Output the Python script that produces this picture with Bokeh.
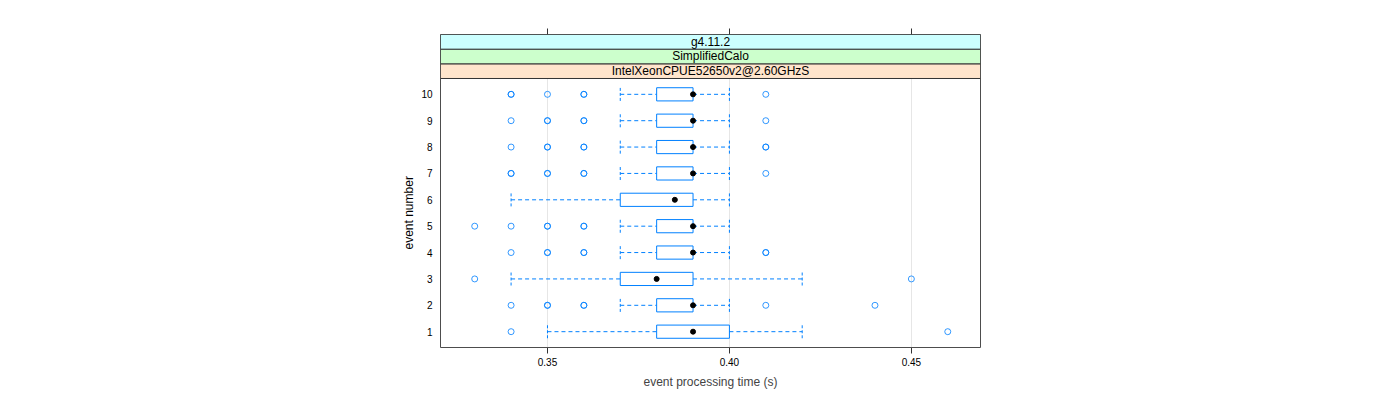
from bokeh.plotting import figure
from bokeh.models import (Range1d, FixedTicker, LinearAxis, NumeralTickFormatter,
                          ColumnDataSource, Title)
from bokeh.core.properties import value
from bokeh.embed import file_html
from bokeh.resources import INLINE

# ---- data ----
events = [1, 2, 3, 4, 5, 6, 7, 8, 9, 10]
q1 = [0.38, 0.38, 0.37, 0.38, 0.38, 0.37, 0.38, 0.38, 0.38, 0.38]
q3 = [0.40, 0.39, 0.39, 0.39, 0.39, 0.39, 0.39, 0.39, 0.39, 0.39]
median = [0.39, 0.39, 0.38, 0.39, 0.39, 0.385, 0.39, 0.39, 0.39, 0.39]
whisk_lo = [0.35, 0.37, 0.34, 0.37, 0.37, 0.34, 0.37, 0.37, 0.37, 0.37]
whisk_hi = [0.42, 0.40, 0.42, 0.40, 0.40, 0.40, 0.40, 0.40, 0.40, 0.40]

# outliers (duplicates = overplotted observations)
out_event = ([1, 1] +
             [2, 2, 2, 2, 2, 2, 2] +
             [3, 3] +
             [4, 4, 4, 4, 4, 4, 4] +
             [5, 5, 5, 5, 5, 5] +
             [7, 7, 7, 7, 7, 7, 7] +
             [8, 8, 8, 8, 8, 8, 8] +
             [9, 9, 9, 9, 9, 9] +
             [10, 10, 10, 10, 10, 10])
out_time = ([0.34, 0.46] +
            [0.34, 0.35, 0.35, 0.36, 0.36, 0.41, 0.44] +
            [0.33, 0.45] +
            [0.34, 0.35, 0.35, 0.36, 0.36, 0.41, 0.41] +
            [0.33, 0.34, 0.35, 0.35, 0.36, 0.36] +
            [0.34, 0.34, 0.35, 0.35, 0.36, 0.36, 0.41] +
            [0.34, 0.35, 0.35, 0.36, 0.36, 0.41, 0.41] +
            [0.34, 0.35, 0.35, 0.36, 0.36, 0.41] +
            [0.34, 0.34, 0.35, 0.36, 0.36, 0.41])

x_ticks = [0.35, 0.40, 0.45]
strip_labels = ["IntelXeonCPUE52650v2@2.60GHzS", "SimplifiedCalo", "g4.11.2"]
strip_colors = ["#FFE5CC", "#CCFFCC", "#CCFFFF"]
x_title = "event processing time (s)"
y_title = "event number"

# ---- layout constants ----
X0, X1 = 0.3206, 0.4690
Y0, Y1 = 0.4, 10.6
SH = 0.556
YTOP = Y1 + 3 * SH
BLUE = "#0080ff"
FONT = "Liberation Sans"
HB = 0.25

p = figure(width=1388, height=392, output_backend="svg", toolbar_location=None,
           x_range=Range1d(X0, X1), y_range=Range1d(Y0, YTOP),
           min_border_left=440, min_border_right=408, min_border_top=34,
           min_border_bottom=45)
p.outline_line_color = "#4d4d4d"
p.outline_line_width = 1
p.background_fill_color = "white"

# grid
p.ygrid.visible = False
p.xgrid.ticker = FixedTicker(ticks=x_ticks)
p.xgrid.grid_line_color = "#e6e6e6"

# axes
xa = p.xaxis[0]
xa.ticker = FixedTicker(ticks=x_ticks)
xa.formatter = NumeralTickFormatter(format="0.00")
xa.axis_line_color = None
xa.major_tick_out = 6
xa.major_tick_in = 0
xa.minor_tick_line_color = None
xa.major_tick_line_color = "#333333"
xa.major_label_standoff = 4
xa.major_label_text_font = FONT
xa.major_label_text_font_size = "10px"
xa.major_label_text_color = "black"
xa.axis_label = x_title
xa.axis_label_text_font = FONT
xa.axis_label_text_font_size = "12px"
xa.axis_label_text_font_style = "normal"
xa.axis_label_standoff = 6

ya = p.yaxis[0]
ya.ticker = FixedTicker(ticks=events)
ya.axis_line_color = None
ya.major_tick_out = 0
ya.major_tick_in = 0
ya.minor_tick_line_color = None
ya.major_label_standoff = 8
ya.major_label_text_font = FONT
ya.major_label_text_font_size = "10px"
ya.major_label_text_color = "black"

# y title, centred on the panel below the strips
p.add_layout(Title(text=y_title, align="left", offset=98, standoff=6,
                   text_font=FONT, text_font_size="12px", text_font_style="normal",
                   text_color="black"), "left")

top = LinearAxis(ticker=FixedTicker(ticks=x_ticks), axis_line_color=None,
                 major_tick_out=6, major_tick_in=0, minor_tick_line_color=None,
                 major_tick_line_color="#333333", major_label_text_font_size="0px",
                 major_label_text_alpha=0)
p.add_layout(top, "above")

# strips
for i, (lab, col) in enumerate(zip(strip_labels, strip_colors)):
    b = Y1 + i * SH
    p.quad(left=X0, right=X1, bottom=b, top=b + SH, fill_color=col,
           line_color="#333333", line_width=1)
    p.text(x=[(X0 + X1) / 2], y=[b + SH / 2], text=[lab], text_align="center",
           text_baseline="middle", text_font=value(FONT), text_font_size="12px",
           text_color="black")

src = ColumnDataSource(dict(ev=events, q1=q1, q3=q3, med=median, lo=whisk_lo, hi=whisk_hi,
                            b=[e - HB for e in events], t=[e + HB for e in events]))

# whiskers
p.segment(x0="lo", y0="ev", x1="q1", y1="ev", source=src, line_color=BLUE,
          line_dash="4 3", line_width=1)
p.segment(x0="q3", y0="ev", x1="hi", y1="ev", source=src, line_color=BLUE,
          line_dash="4 3", line_width=1)
p.segment(x0="lo", y0="b", x1="lo", y1="t", source=src, line_color=BLUE,
          line_dash="3 2", line_width=1)
p.segment(x0="hi", y0="b", x1="hi", y1="t", source=src, line_color=BLUE,
          line_dash="3 2", line_width=1)
# boxes
p.quad(left="q1", right="q3", bottom="b", top="t", source=src, fill_color=None,
       line_color=BLUE, line_width=1)
# medians
p.scatter(x="med", y="ev", source=src, size=5, marker="circle", fill_color="black",
          line_color="black")
# outliers
p.scatter(x=out_time, y=out_event, size=6, marker="circle", fill_color=None,
          line_color=BLUE, line_width=1, line_alpha=0.8)

open("out.html", "w").write(file_html(p, INLINE))
